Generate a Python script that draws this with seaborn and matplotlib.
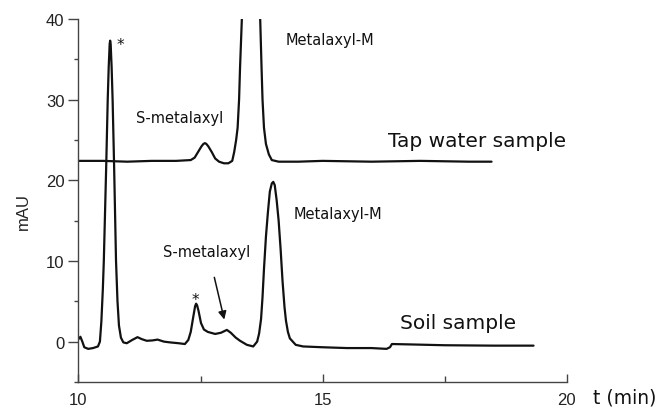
import numpy as np
import pandas as pd
import matplotlib
matplotlib.use("Agg")
import matplotlib.pyplot as plt
import seaborn as sns
from matplotlib.ticker import MultipleLocator

sns.set_theme(style="ticks")
plt.rcParams["font.family"] = ["Liberation Sans", "DejaVu Sans"]

## DATA
tap_time = [10.00, 10.50, 11.00, 11.50, 12.00, 12.30, 12.38, 12.45, 12.52, 12.56,
            12.59, 12.62, 12.66, 12.73, 12.80, 12.88, 12.98, 13.07, 13.15, 13.19,
            13.23, 13.26, 13.29, 13.31, 13.35, 13.40, 13.54, 13.68, 13.72, 13.75,
            13.77, 13.80, 13.84, 13.90, 13.96, 14.10, 14.50, 15.00, 16.00, 17.00,
            18.00, 18.46]
tap_mau = [22.4, 22.4, 22.3, 22.4, 22.4, 22.5, 22.8, 23.5, 24.2, 24.5,
           24.6, 24.5, 24.2, 23.5, 22.7, 22.3, 22.1, 22.1, 22.4, 23.5,
           25.0, 26.5, 30.0, 34.0, 40.5, 48.0, 55.0, 48.0, 40.5, 34.0,
           30.0, 26.5, 24.5, 23.2, 22.5, 22.3, 22.3, 22.4, 22.3, 22.4,
           22.3, 22.3]

soil_time = [10.00, 10.04, 10.08, 10.12, 10.20, 10.30, 10.40, 10.44, 10.47, 10.50,
             10.52, 10.57, 10.60, 10.62, 10.64, 10.65, 10.66, 10.68, 10.70, 10.73,
             10.77, 10.80, 10.83, 10.87, 10.92, 10.99, 11.10, 11.21, 11.30, 11.40,
             11.52, 11.62, 11.75, 11.88, 12.05, 12.18, 12.25, 12.30, 12.35, 12.39,
             12.41, 12.43, 12.46, 12.51, 12.57, 12.65, 12.80, 12.92, 13.04, 13.12,
             13.22, 13.31, 13.45, 13.58, 13.66, 13.70, 13.74, 13.77, 13.80, 13.84,
             13.88, 13.92, 13.96, 13.99, 14.02, 14.06, 14.10, 14.14, 14.18, 14.22,
             14.25, 14.29, 14.33, 14.45, 14.60, 15.00, 15.50, 16.00, 16.31, 16.38,
             16.42, 16.80, 17.50, 18.50, 19.32]
soil_mau = [0.3, 0.6, 0.0, -0.7, -0.9, -0.8, -0.6, 0.0, 2.5, 6.5,
            10.0, 22.0, 30.0, 34.0, 36.9, 37.3, 36.9, 34.0, 30.0, 22.0,
            10.0, 5.0, 2.0, 0.5, -0.1, -0.2, 0.2, 0.55, 0.3, 0.1,
            0.15, 0.25, 0.0, -0.1, -0.2, -0.3, 0.2, 1.2, 3.0, 4.4,
            4.7, 4.5, 3.8, 2.3, 1.5, 1.2, 0.95, 1.1, 1.45, 1.1,
            0.5, 0.1, -0.4, -0.6, 0.0, 1.0, 2.8, 5.5, 9.0, 13.0,
            16.0, 18.6, 19.6, 19.8, 19.4, 17.5, 15.0, 11.5, 7.5, 4.3,
            2.6, 1.2, 0.4, -0.4, -0.6, -0.7, -0.8, -0.8, -0.9, -0.7,
            -0.3, -0.35, -0.45, -0.5, -0.5]

tap = pd.DataFrame({"t": tap_time, "mAU": tap_mau})
soil = pd.DataFrame({"t": soil_time, "mAU": soil_mau})

fig = plt.figure(figsize=(6.59, 4.14), dpi=100)
ax = fig.add_axes([0.119, 0.075, 0.741, 0.877])

sns.lineplot(data=tap, x="t", y="mAU", ax=ax, color="#111111", lw=1.6,
             estimator=None, sort=False)
sns.lineplot(data=soil, x="t", y="mAU", ax=ax, color="#111111", lw=1.6,
             estimator=None, sort=False)

ax.set_xlim(10, 20)
ax.set_ylim(-5, 40)
ax.set_xticks([10, 15, 20])
ax.set_yticks([0, 10, 20, 30, 40])
ax.xaxis.set_minor_locator(MultipleLocator(2.5))
ax.yaxis.set_minor_locator(MultipleLocator(5))
ax.tick_params(axis="x", which="major", direction="in", length=6, width=1,
               pad=7, labelsize=12, color="#444444", labelcolor="#222222")
ax.tick_params(axis="x", which="minor", direction="in", length=4, width=1,
               color="#444444")
ax.tick_params(axis="y", which="major", direction="out", length=7, width=1,
               pad=3, labelsize=12, color="#444444", labelcolor="#222222")
ax.tick_params(axis="y", which="minor", direction="out", length=3, width=1,
               color="#444444")
for side in ["top", "right"]:
    ax.spines[side].set_visible(False)
for side in ["left", "bottom"]:
    ax.spines[side].set_color("#444444")
    ax.spines[side].set_linewidth(1)
ax.set_xlabel("")
ax.set_ylabel("")

fig.text(23 / 659, 1 - 212 / 414, "mAU", rotation=90, ha="center", va="center",
         fontsize=12, color="#222222")
fig.text(593 / 659, 1 - 398 / 414, "t (min)", ha="left", va="center",
         fontsize=13.5, family="DejaVu Sans", color="#111111")

note = dict(family="DejaVu Sans", color="#111111")
ax.text(10.86, 36.8, "*", ha="center", va="center", fontsize=11, **note)
ax.text(12.39, 5.2, "*", ha="center", va="center", fontsize=11, **note)
ax.text(12.07, 27.8, "S-metalaxyl", ha="center", va="center", fontsize=10.5, **note)
ax.text(15.16, 37.5, "Metalaxyl-M", ha="center", va="center", fontsize=10.5, **note)
ax.text(16.34, 24.9, "Tap water sample", ha="left", va="center", fontsize=14.5, **note)
ax.text(14.40, 15.9, "Metalaxyl-M", ha="left", va="center", fontsize=10.5, **note)
ax.text(11.73, 11.15, "S-metalaxyl", ha="left", va="center", fontsize=10.5, **note)
ax.text(16.59, 2.4, "Soil sample", ha="left", va="center", fontsize=14.5, **note)
ax.annotate("", xy=(13.0, 2.4), xytext=(12.77, 8.3),
            arrowprops=dict(arrowstyle="-|>", color="#111111", lw=1.1,
                            mutation_scale=12))

fig.savefig("out.png", dpi=100)
